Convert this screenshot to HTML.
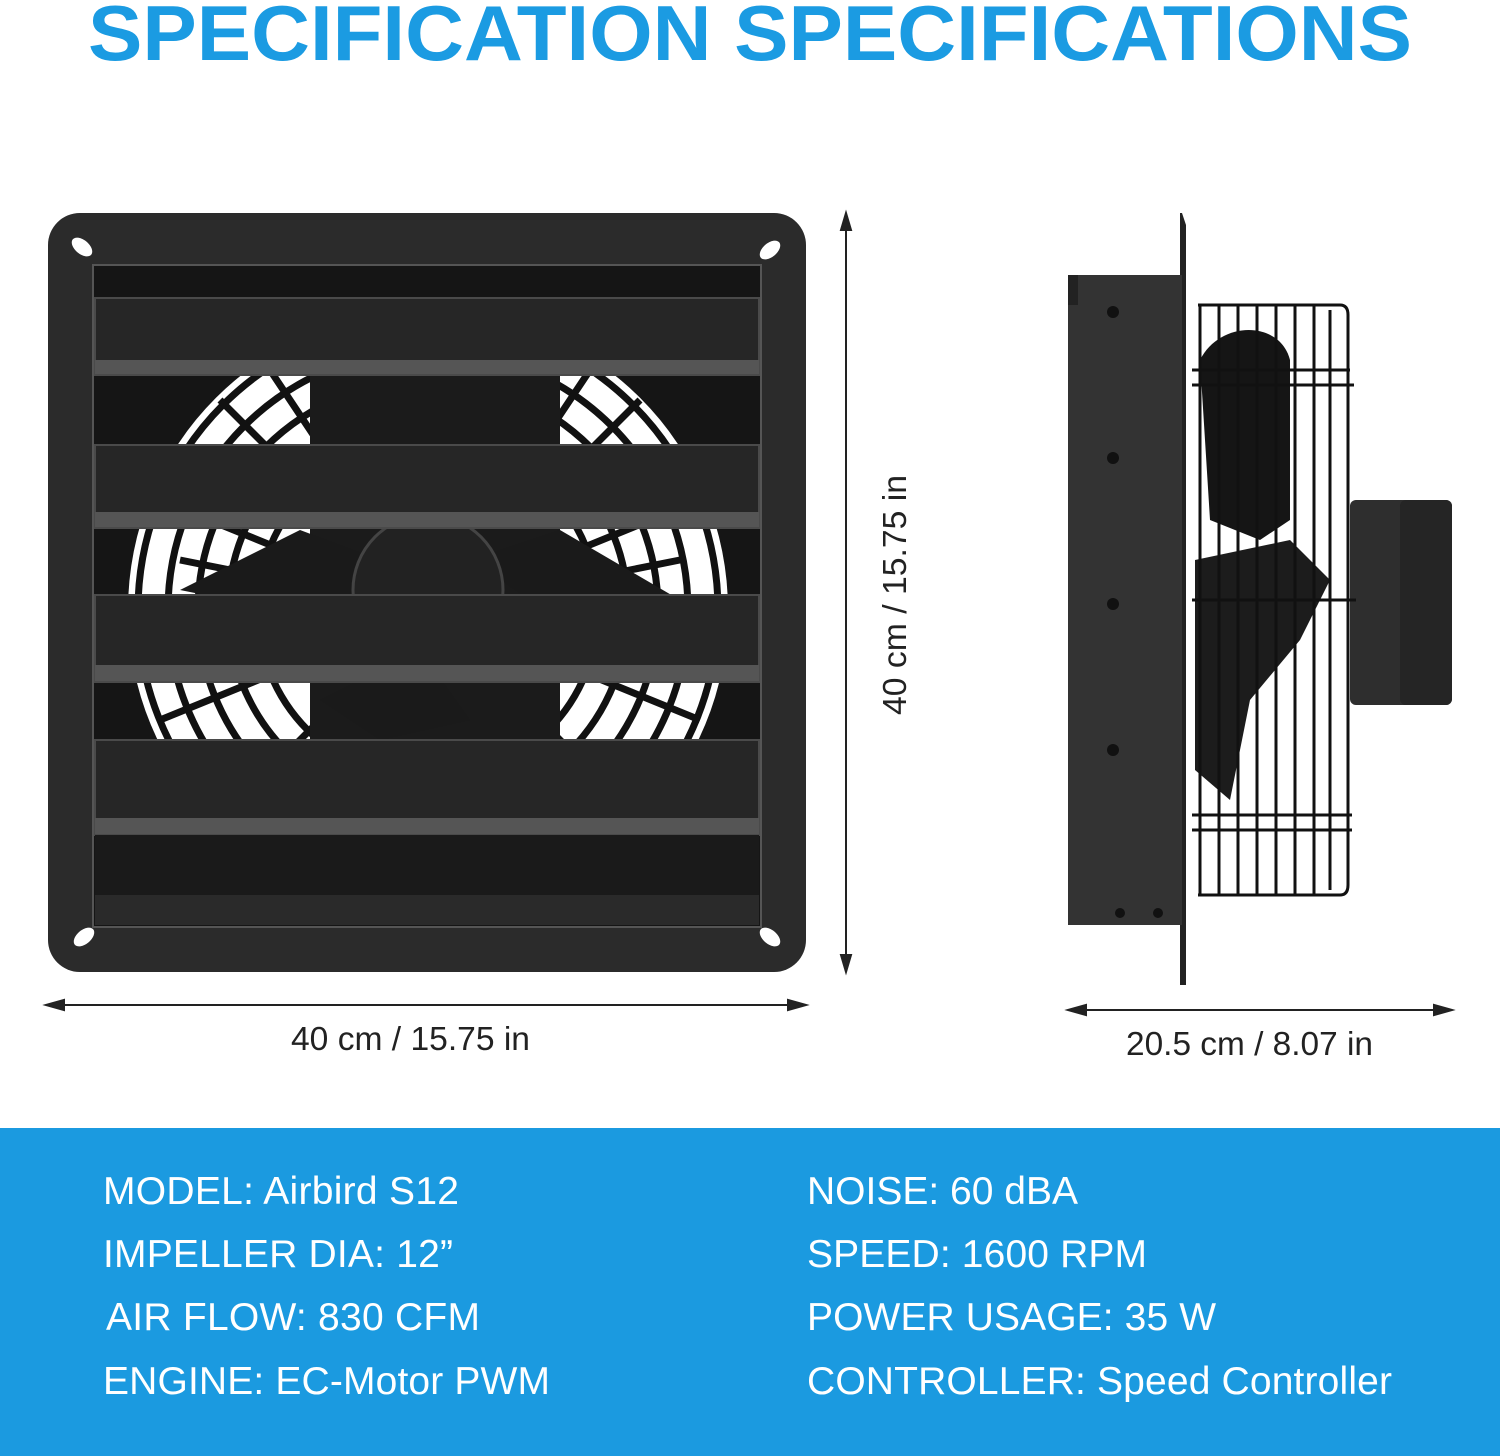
<!DOCTYPE html>
<html><head><meta charset="utf-8"><style>
html,body{margin:0;padding:0;background:#fff}
svg{display:block}
</style></head><body>
<svg width="1500" height="1456" viewBox="0 0 1500 1456" xmlns="http://www.w3.org/2000/svg" font-family="Liberation Sans, sans-serif">
<rect width="1500" height="1456" fill="#fff"/>
<text x="750" y="60" text-anchor="middle" font-size="78" font-weight="bold" fill="#1b9be2" textLength="1324" lengthAdjust="spacingAndGlyphs">SPECIFICATION SPECIFICATIONS</text>

<!-- front fan -->
<rect x="48" y="213" width="758" height="759" rx="32" fill="#2b2b2b"/>
<rect x="93" y="265" width="668" height="662" fill="#151515" stroke="#555" stroke-width="2"/>
<g>
<clipPath id="fc"><circle cx="428" cy="610" r="300"/></clipPath>
<circle cx="428" cy="610" r="300" fill="#fff"/>
<g clip-path="url(#fc)" stroke="#111" stroke-width="7" fill="none">
<circle cx="428" cy="610" r="290"/><circle cx="428" cy="610" r="260"/><circle cx="428" cy="610" r="230"/>
<circle cx="428" cy="610" r="200"/><circle cx="428" cy="610" r="170"/>
<path d="M140 610H716M428 310V910M220 400L640 820M640 400L220 820M160 500L700 720M160 720L700 500M330 320L530 900M530 320L330 900M180 560L680 660M180 660L680 560M250 340L610 880M610 340L250 880"/>
</g>
<rect x="310" y="370" width="250" height="480" fill="#1b1b1b"/>
<path d="M180 590L300 530L380 560L330 620Z M470 560L560 530L680 600L560 620Z M320 700L420 650L470 720L380 740Z" fill="#1a1a1a"/>
<circle cx="428" cy="590" r="75" fill="#222" stroke="#444" stroke-width="3"/>
</g>
<g fill="#262626" stroke="#4a4a4a" stroke-width="2">
<rect x="95" y="298" width="664" height="77"/>
<rect x="95" y="445" width="664" height="83"/>
<rect x="95" y="595" width="664" height="87"/>
<rect x="95" y="740" width="664" height="95"/>
</g>
<g fill="#555"><rect x="95" y="360" width="664" height="14"/><rect x="95" y="512" width="664" height="15"/><rect x="95" y="665" width="664" height="16"/><rect x="95" y="818" width="664" height="16"/></g>
<rect x="95" y="835" width="664" height="60" fill="#1a1a1a"/>
<rect x="95" y="895" width="664" height="30" fill="#2a2a2a"/>
<g fill="#fff">
<ellipse cx="82" cy="247" rx="12" ry="7" transform="rotate(40 82 247)"/>
<ellipse cx="770" cy="250" rx="12" ry="7" transform="rotate(-40 770 250)"/>
<ellipse cx="84" cy="937" rx="12" ry="7" transform="rotate(-40 84 937)"/>
<ellipse cx="770" cy="937" rx="12" ry="7" transform="rotate(40 770 937)"/>
</g>

<!-- side view -->
<path d="M1182 213L1186 225V985H1180V213Z" fill="#222"/>
<rect x="1068" y="275" width="114" height="650" fill="#333"/>
<rect x="1068" y="275" width="10" height="30" fill="#222"/>
<g fill="#111"><circle cx="1113" cy="312" r="6"/><circle cx="1113" cy="458" r="6"/><circle cx="1113" cy="604" r="6"/><circle cx="1113" cy="750" r="6"/><circle cx="1120" cy="913" r="5"/><circle cx="1158" cy="913" r="5"/></g>
<rect x="1350" y="500" width="102" height="205" rx="6" fill="#2e2e2e"/>
<rect x="1400" y="500" width="52" height="205" rx="6" fill="#252525"/>
<path d="M1200 360C1220 320 1280 320 1290 360L1290 520L1260 540L1210 520Z" fill="#151515"/>
<path d="M1195 560L1290 540L1330 580L1300 640L1250 700L1230 800L1195 770Z" fill="#1c1c1c"/>
<g stroke="#111" stroke-width="3" fill="none">
<path d="M1198 305H1340Q1348 305 1348 315V885Q1348 895 1340 895H1198"/>
<path d="M1200 305V895M1219 305V895M1238 305V895M1257 305V895M1276 305V895M1295 305V895M1314 305V895M1330 310V890"/>
<path d="M1192 370H1350M1192 385H1354M1192 600H1356M1192 815H1352M1192 830H1352"/>
</g>

<!-- dimension arrows -->
<g stroke="#222" stroke-width="2" fill="#222">
<line x1="846" y1="222" x2="846" y2="963"/>
<path d="M846 213L841 230H851Z M846 972L841 955H851Z"/>
<line x1="56" y1="1005" x2="797" y2="1005"/>
<path d="M46 1005L64 1000V1010Z M806 1005L788 1000V1010Z"/>
<line x1="1078" y1="1010" x2="1442" y2="1010"/>
<path d="M1068 1010L1086 1005V1015Z M1452 1010L1434 1005V1015Z"/>
</g>
<g font-size="33" fill="#222">
<text x="291" y="1050" textLength="239" lengthAdjust="spacingAndGlyphs">40 cm / 15.75 in</text>
<text x="1126" y="1055" textLength="247" lengthAdjust="spacingAndGlyphs">20.5 cm / 8.07 in</text>
<text transform="translate(906 715) rotate(-90)" textLength="240" lengthAdjust="spacingAndGlyphs">40 cm / 15.75 in</text>
</g>

<!-- spec band -->
<rect x="0" y="1128" width="1500" height="328" fill="#1b9ae0"/>
<g font-size="39" fill="#fff" lengthAdjust="spacingAndGlyphs">
<text x="103" y="1204" textLength="356">MODEL: Airbird S12</text>
<text x="103" y="1267" textLength="350">IMPELLER DIA: 12”</text>
<text x="106" y="1330" textLength="374">AIR FLOW: 830 CFM</text>
<text x="103" y="1394" textLength="447">ENGINE: EC-Motor PWM</text>
<text x="807" y="1204" textLength="271">NOISE: 60 dBA</text>
<text x="807" y="1267" textLength="340">SPEED: 1600 RPM</text>
<text x="807" y="1330" textLength="409">POWER USAGE: 35 W</text>
<text x="807" y="1394" textLength="585">CONTROLLER: Speed Controller</text>
</g>
</svg>
</body></html>
